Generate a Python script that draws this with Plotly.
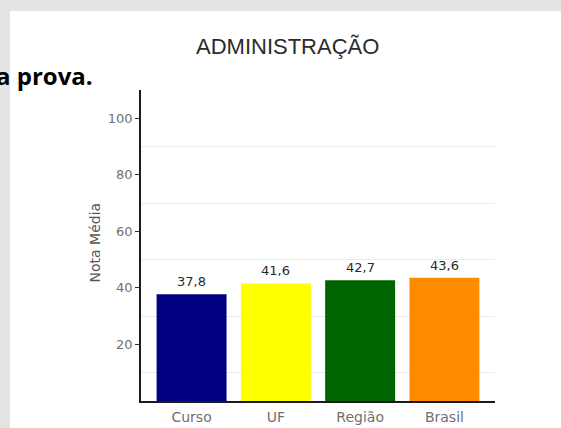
import plotly.graph_objects as go

# Average scores by comparison group
categories = ["Curso", "UF", "Região", "Brasil"]
scores = [37.8, 41.6, 42.7, 43.6]
bar_colors = ["#000080", "#ffff00", "#006400", "#ff8c00"]
y_ticks = [20, 40, 60, 80, 100]
grid_vals = [10, 30, 50, 70, 90, 110]

W, H = 561, 428
L, R, T, B = 141, 66, 90, 27
pw, ph = W - L - R, H - T - B


def px_x(px):
    return (px - L) / pw


def px_y(py):
    return (H - B - py) / ph


fig = go.Figure()
fig.add_trace(go.Bar(
    x=categories,
    y=scores,
    marker=dict(color=bar_colors, line=dict(width=0)),
    width=0.83,
    hoverinfo="skip",
))

# value labels above each bar, decimal comma
for cat, v in zip(categories, scores):
    fig.add_annotation(
        x=cat, y=v, xref="x", yref="y",
        text=f"{v:.1f}".replace(".", ","),
        showarrow=False, yanchor="bottom", yshift=3,
        font=dict(family="DejaVu Sans", size=13, color="#2a2a2a"),
    )

# grey page frame along the top and left edges
frame = "#e4e4e4"
fig.add_shape(
    type="rect", xref="paper", yref="paper", layer="below",
    x0=px_x(-5), x1=px_x(W + 5), y0=px_y(11), y1=px_y(-5),
    fillcolor=frame, line=dict(width=0),
)
fig.add_shape(
    type="rect", xref="paper", yref="paper", layer="below",
    x0=px_x(-5), x1=px_x(10), y0=px_y(H + 5), y1=px_y(-5),
    fillcolor=frame, line=dict(width=0),
)

fig.add_annotation(
    text="ADMINISTRAÇÃO", xref="paper", yref="paper",
    x=px_x(287), y=px_y(46), xanchor="center", yanchor="middle",
    showarrow=False,
    font=dict(family="Liberation Sans", size=22, color="#2b2b2b"),
)

fig.add_annotation(
    text="a prova.", xref="paper", yref="paper",
    x=px_x(95), y=px_y(75), xanchor="right", yanchor="middle",
    showarrow=False,
    font=dict(family="Open Sans", size=24, color="#000000", weight="bold"),
)

fig.add_annotation(
    text="Nota Média", xref="paper", yref="paper",
    x=px_x(94.5), y=px_y(243), xanchor="center", yanchor="middle",
    textangle=-90, showarrow=False,
    font=dict(family="DejaVu Sans", size=14, color="#555555"),
)

fig.update_layout(
    width=W, height=H,
    margin=dict(l=L, r=R, t=T, b=B, autoexpand=False),
    paper_bgcolor="white",
    plot_bgcolor="rgba(0,0,0,0)",
    showlegend=False,
    bargap=0.17,
    xaxis=dict(
        range=[-0.6, 3.6], automargin=False,
        showgrid=False, zeroline=False,
        showline=True, linecolor="#1a1a1a", linewidth=1.5,
        ticks="outside", ticklen=2, tickcolor="rgba(0,0,0,0)",
        tickfont=dict(family="DejaVu Sans", size=14, color="#707070"),
        fixedrange=True,
    ),
    yaxis=dict(
        range=[0, 110], automargin=False,
        tickvals=y_ticks,
        showgrid=False, zeroline=False,
        showline=True, linecolor="#1a1a1a", linewidth=1.5,
        ticks="outside", ticklen=4, tickcolor="#333333", tickwidth=1,
        tickfont=dict(family="DejaVu Sans", size=13, color="#707070"),
        minor=dict(tickvals=grid_vals, showgrid=True, gridcolor="#ececec", gridwidth=1),
        fixedrange=True,
    ),
)

fig.write_html("out.html")
